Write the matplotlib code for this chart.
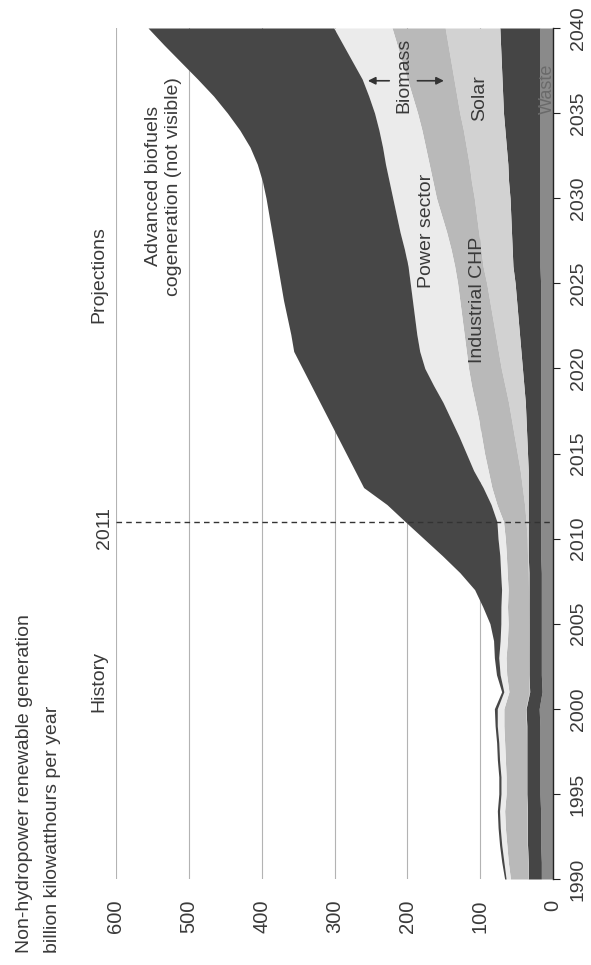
import numpy as np
import matplotlib
matplotlib.use("Agg")
import matplotlib.pyplot as plt

# 資料: 年份與各來源發電量 (billion kWh)，由下往上堆疊
years = list(range(1990, 2041))

waste = [16, 16, 17, 17, 17, 18, 18, 18, 18, 18, 19,
         15, 16, 16, 16, 16, 16, 16, 16, 17, 17, 17,
         17, 17, 17, 17, 17, 17, 17, 17, 17, 17,
         17, 17, 17, 17, 18, 18, 18, 18, 18, 18,
         18, 18, 18, 18, 18, 18, 18, 18, 18]
geothermal = [18, 18, 18, 18, 18, 18, 18, 18, 18, 18, 18,
              17, 17, 17, 17, 17, 17, 17, 17, 17, 17, 17,
              17, 17, 17, 18, 19, 20, 21, 23, 25, 27,
              29, 31, 33, 35, 37, 38, 39, 40, 41, 43,
              44, 46, 48, 50, 51, 52, 53, 54, 55]
solar = [0.4, 0.4, 0.4, 0.4, 0.4, 0.4, 0.4, 0.4, 0.4, 0.5, 0.5,
         0.5, 0.6, 0.5, 0.6, 0.6, 0.5, 0.6, 0.9, 1, 1.5, 3,
         5, 8, 11, 14, 17, 20, 23, 26, 29, 31,
         33, 35, 37, 39, 41, 43, 45, 47, 49, 51,
         53, 55, 57, 60, 63, 66, 69, 72, 75]
industrial_chp = [24, 27, 28, 30, 31, 28, 28, 29, 30, 31, 30,
                  28, 30, 31, 29, 28, 29, 28, 29, 29, 30, 31,
                  38, 42, 44, 45, 45, 45, 46, 46, 45, 44,
                  43, 42, 41, 40, 39, 41, 44, 48, 52, 53,
                  55, 56, 57, 58, 61, 64, 67, 70, 73]
power_sector = [6, 6, 7, 7, 7, 7, 7, 8, 8, 9, 9,
                7, 9, 10, 10, 10, 9, 9, 9, 9, 10, 9,
                8, 12, 20, 25, 31, 38, 44, 52, 60, 64,
                65, 65, 65, 65, 64, 64, 64, 62, 60, 60,
                60, 59, 59, 59, 60, 62, 68, 74, 80]
wind = [2, 3, 3, 3, 3, 3, 3, 3, 3, 3, 4,
        3, 5, 6, 9, 15, 25, 37, 56, 79, 102, 126,
        143, 164, 163, 165, 167, 168, 169, 168, 168, 173,
        173, 175, 177, 178, 179, 178, 176, 175, 174, 174,
        176, 182, 191, 202, 213, 226, 236, 246, 255]

value_ticks = [0, 100, 200, 300, 400, 500, 600]
year_ticks = list(range(1990, 2041, 5))


def renewableChart():
    plt.rcParams["font.family"] = ["Liberation Sans", "DejaVu Sans"]
    text_color = "#3a3a3a"

    fig = plt.figure(figsize=(5.91, 9.65), dpi=100)
    # 圖是轉了90度: x軸是發電量 (0在右邊)，y軸是年份
    ax = fig.add_axes([116 / 591, 1 - 879 / 965, (553 - 116) / 591, (879 - 28) / 965])

    layers = [
        (waste, "#8a8a8a"),
        (geothermal, "#454545"),
        (solar, "#d2d2d2"),
        (industrial_chp, "#b9b9b9"),
        (power_sector, "#ebebeb"),
        (wind, "#474747"),
    ]
    y = np.array(years)
    bottom = np.zeros(len(years))
    for vals, color in layers:
        top = bottom + np.array(vals, dtype=float)
        ax.fill_betweenx(y, bottom, top, color=color, linewidth=0, zorder=2)
        bottom = top

    ax.set_xlim(600, 0)
    ax.set_ylim(1990, 2040)

    # 網格
    ax.set_xticks(value_ticks)
    ax.grid(axis="x", color="#b3b3b3", linewidth=0.8)
    ax.set_axisbelow(True)

    for side in ["top", "left", "bottom"]:
        ax.spines[side].set_visible(False)
    ax.spines["right"].set_color("#222222")
    ax.spines["right"].set_linewidth(1.0)
    ax.spines["right"].set_zorder(5)

    ax.yaxis.tick_right()
    ax.set_yticks(year_ticks)
    ax.tick_params(axis="y", direction="out", length=5, width=0.8, color="#222222",
                   pad=7, labelsize=14, labelcolor=text_color, labelrotation=90)
    for lbl in ax.get_yticklabels():
        lbl.set_va("center")
    ax.tick_params(axis="x", length=0, pad=15, labelsize=14.5,
                   labelcolor=text_color, labelrotation=90)

    # 2011 分隔線
    ax.axhline(2011, color="#333333", linewidth=1.0, linestyle=(0, (4, 3)), zorder=4)

    txt = dict(rotation=90, ha="center", va="center", fontsize=14, color=text_color)
    ax.text(623, 2001.6, "History", clip_on=False, **txt)
    ax.text(616, 2010.6, "2011", clip_on=False, **txt)
    ax.text(623, 2025.5, "Projections", clip_on=False, **txt)
    ax.text(535, 2030.7, "Advanced biofuels\ncogeneration (not visible)",
            multialignment="center", zorder=6, **txt)
    ax.text(174, 2028.1, "Power sector", zorder=6, **txt)
    ax.text(104, 2024.0, "Industrial CHP", zorder=6, **txt)
    ax.text(205, 2037.2, "Biomass", zorder=6, **txt)
    ax.text(101, 2035.9, "Solar", zorder=6, **txt)
    ax.text(8, 2036.4, "Waste", rotation=90, ha="center", va="center",
            fontsize=13, color="#6a6a6a", zorder=6)

    arrow = dict(arrowstyle="-|>", color="#333333", lw=1.2, mutation_scale=11)
    ax.annotate("", xy=(258, 2036.9), xytext=(221, 2036.9), arrowprops=arrow, zorder=6)
    ax.annotate("", xy=(146, 2036.9), xytext=(190, 2036.9), arrowprops=arrow, zorder=6)

    # 標題 (旋轉)
    fig.text(25 / 591, 1 - 953 / 965, "Non-hydropower renewable generation",
             rotation=90, ha="center", va="bottom", fontsize=14, color=text_color)
    fig.text(53 / 591, 1 - 953 / 965, "billion kilowatthours per year",
             rotation=90, ha="center", va="bottom", fontsize=14, color=text_color)

    fig.savefig("out.png", dpi=100)


def main():
    renewableChart()


main()
